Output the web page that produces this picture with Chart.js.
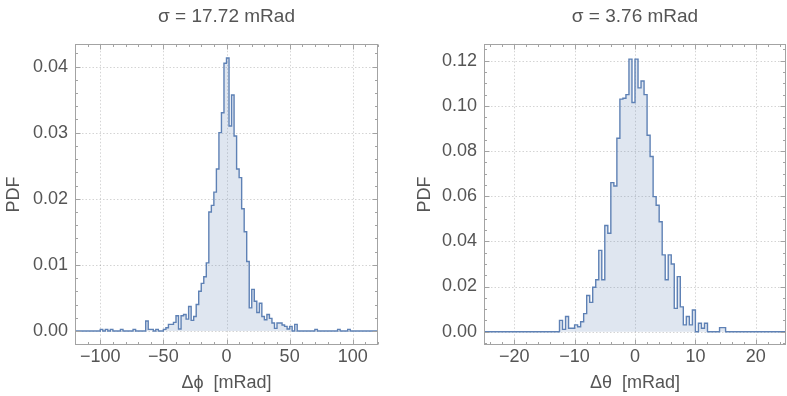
<!DOCTYPE html>
<html><head><meta charset="utf-8">
<script src="https://cdn.jsdelivr.net/npm/chart.js@4.4.1/dist/chart.umd.min.js"></script>
<style>
html,body{margin:0;padding:0;background:#fff;overflow:hidden;width:787px;height:396px;}
#wrapL{position:absolute;left:0;top:0;width:393px;height:396px;}
#wrapR{position:absolute;left:393px;top:0;width:394px;height:396px;}
</style></head><body>
<div id="wrapL"><canvas id="cL"></canvas></div>
<div id="wrapR"><canvas id="cR"></canvas></div>
<script>
// ---- Left panel: Δϕ histogram (PDF), bins of 2 mRad starting at -100 ----
const phiBinStart = -100;
const phiBinWidth = 2;
const phiPDF = [
  0.00025, 0, 0.00025, 0, 0.00025, 0, 0, 0, 0.00025, 0,
  0, 0, 0, 0.00025, 0, 0, 0, 0, 0.0015, 0.00025,
  0.00025, 0, 0.00025, 0, 0, 0.00025, 0.0005, 0.001, 0.001, 0.0013,
  0.0023, 0.0003, 0.0023, 0.0025, 0.0018, 0.0037, 0.0016, 0.0022, 0.004, 0.006,
  0.0072, 0.0082, 0.0103, 0.018, 0.019, 0.021, 0.0245, 0.030, 0.033, 0.0405,
  0.0413, 0.031, 0.0357, 0.0295, 0.0245, 0.0232, 0.0185, 0.015, 0.0105, 0.0035,
  0.0063, 0.0045, 0.0028, 0.0042, 0.0022, 0.0017, 0.0025, 0.0019, 0.0012, 0.0004,
  0.0012, 0.0012, 0.0009, 0.0007, 0.0003, 0.0007, 0, 0.001, 0, 0,
  0, 0, 0, 0, 0, 0.00025, 0, 0, 0, 0,
  0, 0, 0, 0, 0.00025, 0, 0, 0, 0.00025, 0
];
const phiXTicks = [-100, -50, 0, 50, 100];
const phiYTicks = [0, 0.01, 0.02, 0.03, 0.04];

// ---- Right panel: Δθ histogram (PDF), bins of 0.5 mRad starting at -12.5 ----
const thetaBinStart = -12.5;
const thetaBinWidth = 0.5;
const thetaPDF = [
  0.005, 0.001, 0.0067, 0.0015, 0.0015, 0.003, 0.0022, 0.0044, 0.008, 0.016,
  0.013, 0.0197, 0.023, 0.036, 0.023, 0.047, 0.0436, 0.066, 0.0645, 0.0857,
  0.103, 0.1034, 0.105, 0.1207, 0.1015, 0.1207, 0.108, 0.111, 0.105, 0.087,
  0.0776, 0.0598, 0.056, 0.0487, 0.034, 0.023, 0.034, 0.030, 0.0103, 0.0244,
  0.011, 0.003, 0.0067, 0.003, 0.0096, 0, 0.0037, 0.0015, 0.0037, 0,
  0, 0, 0, 0.0018, 0.0018
];
const thetaXTicks = [-20, -10, 0, 10, 20];
const thetaYTicks = [0, 0.02, 0.04, 0.06, 0.08, 0.10, 0.12];

const panelTitles = ['σ = 17.72 mRad', 'σ = 3.76 mRad'];
const xAxisTitles = ['Δϕ  [mRad]', 'Δθ  [mRad]'];
const yAxisTitle = 'PDF';

const FONT = "'Liberation Sans', Arial, Helvetica, sans-serif";
const LINE = '#5e81b5';
const FILL = 'rgba(94,129,181,0.2)';
const TXT = '#555555';
const FRAME = '#a3a3a3';

function stepPoints(start, width, pdf, xmin, xmax) {
  const pts = [{x: xmin, y: 0}];
  pdf.forEach((v, i) => pts.push({x: start + i * width, y: v}));
  pts.push({x: start + pdf.length * width, y: 0});
  pts.push({x: xmax, y: 0});
  return pts;
}

const fmtX = v => (v < 0 ? '\u2212' + Math.abs(v) : String(v));
const fmtY = v => Number(v).toFixed(2);

const framePlugin = {
  id: 'frame',
  beforeDatasetsDraw(chart, args, o) {
    const {ctx, chartArea: a, scales: {x, y}} = chart;
    ctx.save();
    ctx.strokeStyle = 'rgba(0,0,0,0.17)';
    ctx.lineWidth = 1;
    ctx.setLineDash([1.5, 2]);
    o.xMajor.forEach(v => {
      const p = Math.round(x.getPixelForValue(v)) + 0.5;
      ctx.beginPath(); ctx.moveTo(p, a.top); ctx.lineTo(p, a.bottom); ctx.stroke();
    });
    o.yMajor.forEach(v => {
      const p = Math.round(y.getPixelForValue(v)) + 0.5;
      ctx.beginPath(); ctx.moveTo(a.left, p); ctx.lineTo(a.right, p); ctx.stroke();
    });
    ctx.restore();
  },
  afterDatasetsDraw(chart, args, o) {
    const {ctx, chartArea: a, scales: {x, y}} = chart;
    ctx.save();
    ctx.strokeStyle = FRAME;
    ctx.lineWidth = 1;
    const L = Math.round(a.left) + 0.5, R = Math.round(a.right) - 0.5;
    const T = Math.round(a.top) + 0.5, B = Math.round(a.bottom) - 0.5;
    ctx.strokeRect(L, T, R - L, B - T);
    const tick = (vals, len, horiz) => {
      vals.forEach(v => {
        if (horiz) {
          const p = Math.round(x.getPixelForValue(v)) + 0.5;
          ctx.beginPath();
          ctx.moveTo(p, B); ctx.lineTo(p, B - len);
          ctx.moveTo(p, T); ctx.lineTo(p, T + len);
          ctx.stroke();
        } else {
          const p = Math.round(y.getPixelForValue(v)) + 0.5;
          ctx.beginPath();
          ctx.moveTo(L, p); ctx.lineTo(L + len, p);
          ctx.moveTo(R, p); ctx.lineTo(R - len, p);
          ctx.stroke();
        }
      });
    };
    const minors = (min, max, step) => {
      const out = [];
      for (let k = Math.ceil(min / step); k * step <= max + 1e-12; k++) out.push(k * step);
      return out;
    };
    tick(minors(x.min, x.max, o.xMinor), 2.5, true);
    tick(minors(y.min, y.max, o.yMinor), 2.5, false);
    tick(o.xMajor, 5, true);
    tick(o.yMajor, 5, false);
    ctx.restore();
  }
};

function makeChart(id, cfg) {
  return new Chart(document.getElementById(id), {
    type: 'line',
    data: {
      datasets: [{
        data: stepPoints(cfg.start, cfg.width, cfg.pdf, cfg.xmin, cfg.xmax),
        stepped: true,
        borderColor: LINE,
        borderWidth: 1.4,
        backgroundColor: FILL,
        fill: 'origin',
        pointRadius: 0,
        tension: 0
      }]
    },
    plugins: [framePlugin],
    options: {
      responsive: true,
      maintainAspectRatio: false,
      animation: false,
      events: [],
      layout: {padding: {left: 0, right: cfg.padRight, top: 0, bottom: 0}},
      plugins: {
        legend: {display: false},
        tooltip: {enabled: false},
        title: {
          display: true, text: cfg.title, fullSize: false, color: TXT,
          font: {family: FONT, size: 19, weight: 'normal'},
          padding: {top: 5, bottom: 16}
        },
        frame: {xMajor: cfg.xTicks, yMajor: cfg.yTicks, xMinor: cfg.xMinor, yMinor: cfg.yMinor}
      },
      scales: {
        x: {
          type: 'linear', min: cfg.xmin, max: cfg.xmax,
          afterBuildTicks: s => { s.ticks = cfg.xTicks.map(v => ({value: v})); },
          afterFit: s => { s.height = 51; },
          ticks: {callback: v => fmtX(v), color: TXT, font: {family: FONT, size: 18}, padding: 1,
                  maxRotation: 0, autoSkip: false},
          grid: {display: false, drawTicks: false},
          border: {display: false},
          title: {display: true, text: cfg.xTitle, color: TXT, font: {family: FONT, size: 18},
                  padding: {top: 0, bottom: 2}}
        },
        y: {
          type: 'linear', min: cfg.ymin, max: cfg.ymax,
          afterBuildTicks: s => { s.ticks = cfg.yTicks.map(v => ({value: v})); },
          afterFit: s => { s.width = cfg.yWidth; },
          ticks: {callback: v => fmtY(v), color: TXT, font: {family: FONT, size: 18}, padding: cfg.yPad,
                  autoSkip: false},
          grid: {display: false, drawTicks: false},
          border: {display: false},
          title: {display: true, text: yAxisTitle, color: TXT, font: {family: FONT, size: 18},
                  padding: {top: cfg.yTitlePad, bottom: 0}}
        }
      }
    }
  });
}

makeChart('cL', {
  start: phiBinStart, width: phiBinWidth, pdf: phiPDF,
  xmin: -120, xmax: 120, ymin: -0.00212, ymax: 0.04344,
  xTicks: phiXTicks, yTicks: phiYTicks, xMinor: 10, yMinor: 0.002,
  title: panelTitles[0], xTitle: xAxisTitles[0],
  yWidth: 75, yPad: 7, yTitlePad: 3, padRight: 15
});
makeChart('cR', {
  start: thetaBinStart, width: thetaBinWidth, pdf: thetaPDF,
  xmin: -25, xmax: 25, ymin: -0.0059, ymax: 0.1275,
  xTicks: thetaXTicks, yTicks: thetaYTicks, xMinor: 2, yMinor: 0.005,
  title: panelTitles[1], xTitle: xAxisTitles[1],
  yWidth: 91, yPad: 7, yTitlePad: 21, padRight: 1
});
</script>
</body></html>
